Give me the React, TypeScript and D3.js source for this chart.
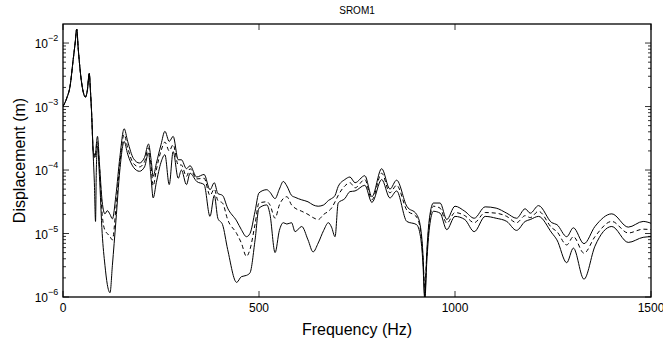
import React from "react";
import * as d3 from "d3";

const freq = [0, 10, 18, 26, 31, 35, 39, 45, 52, 57, 62, 67, 70, 73, 77, 80, 83, 85, 88, 93, 100, 107, 113, 120, 126, 135, 145, 156, 165, 180, 195, 208, 218, 225, 230, 238, 250, 260, 271, 281, 294, 302, 315, 324, 341, 360, 375, 386, 395, 407, 420, 443, 455, 468, 477, 490, 500, 520, 528, 541, 552, 562, 571, 583, 592, 609, 625, 638, 651, 665, 677, 685, 694, 702, 719, 732, 745, 770, 788, 813, 834, 851, 877, 902, 912, 918, 923, 928, 935, 945, 962, 979, 1000, 1025, 1049, 1077, 1105, 1132, 1157, 1179, 1192, 1213, 1247, 1260, 1285, 1302, 1329, 1357, 1400, 1442, 1480, 1500];

const upperBound = [1.0e-3, 1.38e-3, 2.09e-3, 5.5e-3, 1.0e-2, 1.66e-2, 7.94e-3, 3.16e-3, 1.66e-3, 1.41e-3, 1.78e-3, 3.31e-3, 1.78e-3, 7.94e-4, 2.0e-4, 1.58e-4, 1.78e-4, 2.51e-4, 3.39e-4, 1.26e-4, 3.16e-5, 2.04e-5, 2.29e-5, 2.0e-5, 1.7e-5, 3.98e-5, 1.58e-4, 4.47e-4, 2.82e-4, 1.51e-4, 1.29e-4, 1.58e-4, 2.57e-4, 1.41e-4, 7.94e-5, 1.26e-4, 2.51e-4, 4.07e-4, 2.82e-4, 3.39e-4, 1.45e-4, 1.45e-4, 1.05e-4, 1.17e-4, 7.76e-5, 8.51e-5, 4.9e-5, 6.31e-5, 4.27e-5, 3.98e-5, 2.51e-5, 1.58e-5, 1.15e-5, 8.91e-6, 1.0e-5, 2.24e-5, 4.37e-5, 4.9e-5, 4.47e-5, 3.55e-5, 5.01e-5, 6.61e-5, 5.62e-5, 3.98e-5, 3.72e-5, 3.39e-5, 3.16e-5, 2.82e-5, 2.69e-5, 2.82e-5, 3.31e-5, 3.55e-5, 3.98e-5, 5.5e-5, 7.08e-5, 7.76e-5, 6.31e-5, 8.13e-5, 3.8e-5, 1.05e-4, 5.01e-5, 6.92e-5, 2.69e-5, 2.0e-5, 1.26e-5, 5.01e-6, 1.0e-6, 5.01e-6, 1.78e-5, 3.02e-5, 3.02e-5, 1.66e-5, 2.69e-5, 2.24e-5, 1.74e-5, 2.63e-5, 2.51e-5, 2.09e-5, 1.74e-5, 2.45e-5, 2.09e-5, 2.75e-5, 1.48e-5, 1.38e-5, 8.91e-6, 1.23e-5, 6.92e-6, 1.29e-5, 2.04e-5, 1.26e-5, 1.55e-5, 1.45e-5];

const meanResponse = [1.0e-3, 1.38e-3, 2.09e-3, 5.5e-3, 1.0e-2, 1.66e-2, 7.94e-3, 3.16e-3, 1.66e-3, 1.41e-3, 1.78e-3, 3.31e-3, 1.78e-3, 7.94e-4, 2.0e-4, 1.78e-4, 1.58e-4, 2.24e-4, 2.82e-4, 1.12e-4, 2.0e-5, 1.12e-5, 1.0e-5, 8.91e-6, 7.94e-6, 2.51e-5, 1.26e-4, 3.63e-4, 2.24e-4, 1.26e-4, 1.12e-4, 1.35e-4, 2.24e-4, 1.12e-4, 5.62e-5, 1.0e-4, 2.0e-4, 2.75e-4, 2.0e-4, 2.51e-4, 1.2e-4, 1.2e-4, 7.94e-5, 1.05e-4, 7.24e-5, 7.41e-5, 3.98e-5, 5.01e-5, 3.31e-5, 3.02e-5, 1.66e-5, 1.0e-5, 7.08e-6, 4.37e-6, 5.62e-6, 1.41e-5, 3.02e-5, 3.16e-5, 2.82e-5, 1.74e-5, 2.82e-5, 3.55e-5, 3.8e-5, 2.82e-5, 2.51e-5, 2.24e-5, 2.0e-5, 1.78e-5, 1.66e-5, 2.0e-5, 2.24e-5, 2.51e-5, 3.16e-5, 3.98e-5, 5.62e-5, 6.31e-5, 5.25e-5, 7.08e-5, 3.39e-5, 8.91e-5, 4.37e-5, 5.75e-5, 2.34e-5, 1.82e-5, 1.12e-5, 4.47e-6, 1.41e-6, 4.47e-6, 1.58e-5, 2.69e-5, 2.51e-5, 1.45e-5, 2.14e-5, 1.91e-5, 1.48e-5, 2.14e-5, 2.09e-5, 1.86e-5, 1.48e-5, 1.91e-5, 1.78e-5, 2.24e-5, 1.23e-5, 1.07e-5, 6.61e-6, 8.91e-6, 4.9e-6, 8.91e-6, 1.55e-5, 1.02e-5, 1.17e-5, 1.15e-5];

const lowerBound = [1.0e-3, 1.38e-3, 2.09e-3, 5.5e-3, 1.0e-2, 1.66e-2, 7.94e-3, 3.16e-3, 1.66e-3, 1.41e-3, 1.78e-3, 3.31e-3, 1.78e-3, 7.94e-4, 1.78e-4, 6.31e-5, 1.55e-5, 1.0e-4, 2.4e-4, 7.94e-5, 1.0e-5, 3.16e-6, 1.58e-6, 1.17e-6, 3.16e-6, 1.58e-5, 1.0e-4, 2.82e-4, 1.78e-4, 1.1e-4, 9.55e-5, 1.12e-4, 1.86e-4, 7.08e-5, 3.63e-5, 6.31e-5, 1.32e-4, 1.74e-4, 5.89e-5, 1.95e-4, 7.41e-5, 1.0e-4, 5.89e-5, 8.91e-5, 6.61e-5, 5.89e-5, 1.86e-5, 3.98e-5, 1.74e-5, 1.38e-5, 5.62e-6, 1.7e-6, 2.09e-6, 2.19e-6, 2.4e-6, 7.94e-6, 2.51e-5, 2.82e-5, 2.0e-5, 5.01e-6, 1.12e-5, 1.48e-5, 1.41e-5, 1.48e-5, 1.07e-5, 1.29e-5, 7.94e-6, 5.13e-6, 7.08e-6, 1.12e-5, 1.48e-5, 1.26e-5, 8.91e-6, 3.02e-5, 3.55e-5, 4.57e-5, 4.68e-5, 5.75e-5, 3.09e-5, 7.08e-5, 3.63e-5, 4.68e-5, 1.55e-5, 1.38e-5, 8.91e-6, 3.55e-6, 8.91e-7, 3.55e-6, 1.26e-5, 2.24e-5, 2.09e-5, 1.15e-5, 1.86e-5, 1.66e-5, 1.07e-5, 1.86e-5, 1.74e-5, 1.55e-5, 1.12e-5, 1.55e-5, 1.66e-5, 1.86e-5, 1.02e-5, 7.94e-6, 3.47e-6, 5.89e-6, 1.91e-6, 6.31e-6, 1.29e-5, 7.24e-6, 8.71e-6, 8.91e-6];

const xTicks = [0, 500, 1000, 1500];
const yDecades = [-6, -5, -4, -3, -2];

const W = 663;
const H = 343;
const M = { left: 63, right: 12, top: 24, bottom: 46 };
const FONT = "'Liberation Sans', Arial, Helvetica, sans-serif";

export default function App() {
  const x = d3.scaleLinear().domain([0, 1500]).range([M.left, W - M.right]);
  const y = d3.scaleLog().domain([1e-6, Math.pow(10, -1.7)]).range([H - M.bottom, M.top]);

  const makeLine = (vals: number[]) =>
    d3
      .line<number>()
      .x((_, i) => x(freq[i]))
      .y((d) => y(d))
      .curve(d3.curveMonotoneX)(vals) || "";

  const x0 = M.left;
  const x1 = W - M.right;
  const yb = H - M.bottom;
  const yt = M.top;

  const minor: number[] = [];
  for (let e = -6; e <= -2; e++) {
    for (let k = 2; k <= 9; k++) {
      const v = k * Math.pow(10, e);
      if (v <= y.domain()[1]) minor.push(v);
    }
  }

  return (
    <svg
      width={W}
      height={H}
      style={{ position: "absolute", left: 0, top: 0, background: "#fff" }}
      fontFamily={FONT}
    >
      <defs>
        <clipPath id="plotclip">
          <rect x={x0} y={yt} width={x1 - x0} height={yb - yt} />
        </clipPath>
      </defs>
      <rect x={0} y={0} width={W} height={H} fill="#fff" />

      <g clipPath="url(#plotclip)" fill="none" stroke="#000">
        <path d={makeLine(upperBound)} strokeWidth={1} />
        <path d={makeLine(lowerBound)} strokeWidth={1} />
        <path d={makeLine(meanResponse)} strokeWidth={1} strokeDasharray="4,3" />
      </g>

      <g stroke="#000" strokeWidth={0.8}>
        {minor.map((v, i) => (
          <g key={i}>
            <line x1={x0} x2={x0 + 3} y1={y(v)} y2={y(v)} />
            <line x1={x1} x2={x1 - 3} y1={y(v)} y2={y(v)} />
          </g>
        ))}
        {yDecades.map((e) => (
          <g key={e}>
            <line x1={x0} x2={x0 + 6} y1={y(Math.pow(10, e))} y2={y(Math.pow(10, e))} />
            <line x1={x1} x2={x1 - 6} y1={y(Math.pow(10, e))} y2={y(Math.pow(10, e))} />
          </g>
        ))}
        {xTicks.map((t) => (
          <g key={t}>
            <line x1={x(t)} x2={x(t)} y1={yb} y2={yb - 6} />
            <line x1={x(t)} x2={x(t)} y1={yt} y2={yt + 6} />
          </g>
        ))}
      </g>

      <rect x={x0} y={yt} width={x1 - x0} height={yb - yt} fill="none" stroke="#000" strokeWidth={1.3} />

      {yDecades.map((e) => (
        <g key={e}>
          <text x={48} y={y(Math.pow(10, e)) + 5} fontSize={12} textAnchor="end">
            10
          </text>
          <text x={48} y={y(Math.pow(10, e)) - 2} fontSize={9} textAnchor="start">
            {"\u2212" + Math.abs(e)}
          </text>
        </g>
      ))}

      {xTicks.map((t) => (
        <text key={t} x={x(t)} y={yb + 15} fontSize={12} textAnchor="middle">
          {t}
        </text>
      ))}

      <text x={(x0 + x1) / 2} y={14} fontSize={10} textAnchor="middle">
        SROM1
      </text>
      <text x={(x0 + x1) / 2} y={335} fontSize={16} textAnchor="middle">
        Frequency (Hz)
      </text>
      <text
        transform={`translate(25, ${(yt + yb) / 2}) rotate(-90)`}
        fontSize={16}
        textAnchor="middle"
      >
        Displacement (m)
      </text>
    </svg>
  );
}
